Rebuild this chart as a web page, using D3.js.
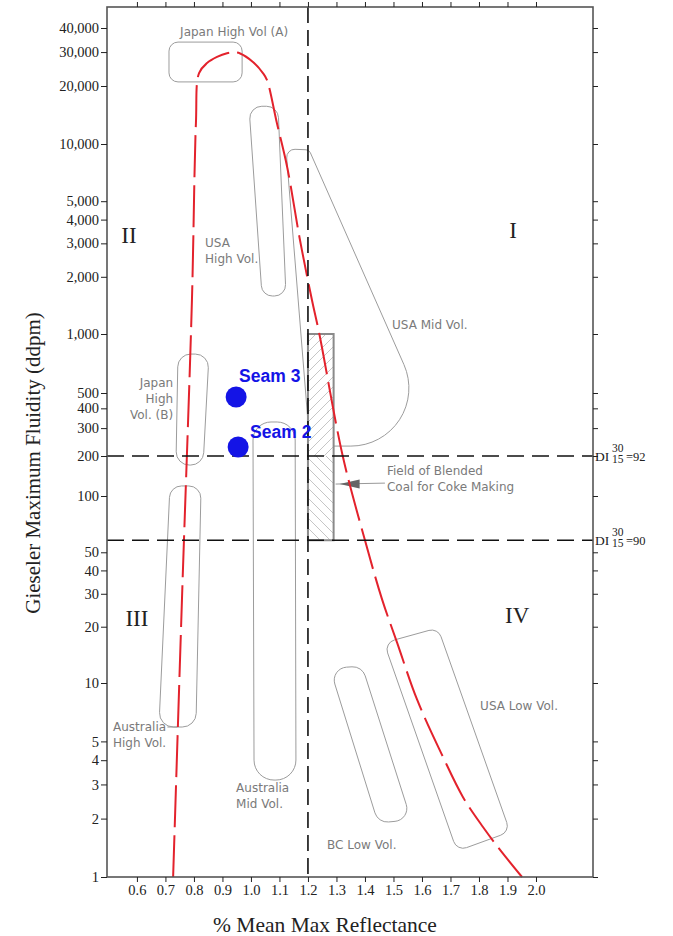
<!DOCTYPE html>
<html>
<head>
<meta charset="utf-8">
<title>Gieseler Maximum Fluidity vs Reflectance</title>
<script src="https://cdn.jsdelivr.net/npm/d3@7"></script>
<style>
    body { margin: 0; background: #fff; }
</style>
</head>
<body>
<div id="chart"></div>
<script>
// ---- data ----
const xTicks = [0.6, 0.7, 0.8, 0.9, 1.0, 1.1, 1.2, 1.3, 1.4, 1.5, 1.6, 1.7, 1.8, 1.9, 2.0];
const yTicks = [1, 2, 3, 4, 5, 10, 20, 30, 40, 50, 100, 200, 300, 400, 500,
    1000, 2000, 3000, 4000, 5000, 10000, 20000, 30000, 40000];

// red dashed trend, [reflectance, fluidity]
const trendCurve = [
    [0.727, 1], [0.758, 28], [0.793, 1510], [0.807, 12850], [0.818, 23350],
    [0.846, 26300], [0.881, 28300], [0.916, 29600], [0.940, 29900], [0.962, 29500],
    [1.007, 26650], [1.042, 23350], [1.056, 21500], [1.091, 12850], [1.127, 7570],
    [1.172, 3125], [1.214, 1510], [1.240, 1000], [1.322, 200], [1.400, 58],
    [1.460, 28], [1.513, 16.4], [1.583, 8.2], [1.674, 4.15], [1.744, 2.58],
    [1.814, 1.81], [1.874, 1.38], [1.951, 1]
];

const seams = [
    { name: "Seam 3", x: 0.948, y: 472 },
    { name: "Seam 2", x: 0.955, y: 228 }
];

// coal fields, corners TL, TR, BR, BL
const coalRegions = [
    { name: "Japan High Vol (A)", corners: [[0.7125, 33800], [0.969, 33800], [0.969, 21000], [0.7125, 21000]] },
    { name: "USA High Vol", corners: [[0.993, 15700], [1.095, 15700], [1.123, 1585], [1.039, 1585]] },
    { name: "USA Mid Vol", corners: [[1.123, 9420], [1.204, 9310], [1.663, 231], [1.207, 231]] },
    { name: "Japan High Vol (B)", corners: [[0.744, 790], [0.853, 790], [0.832, 171], [0.737, 171]] },
    { name: "Australia High Vol", corners: [[0.716, 119], [0.825, 119], [0.807, 5.93], [0.677, 5.93]] },
    { name: "Australia Mid Vol", corners: [[1.007, 328], [1.155, 328], [1.158, 3.16], [1.011, 3.16]] },
    { name: "BC Low Vol", corners: [[1.277, 12.0], [1.390, 12.3], [1.562, 1.97], [1.446, 1.90]] },
    { name: "USA Low Vol", corners: [[1.467, 16.4], [1.656, 19.7], [1.909, 1.71], [1.723, 1.36]] }
];

const regionLabels = [
    { lines: ["Japan High Vol (A)"], x: 0.941, y: 36300, anchor: "middle" },
    { lines: ["USA", "High Vol."], x: 0.839, y: 2870, anchor: "start" },
    { lines: ["Japan", "High", "Vol. (B)"], x: 0.727, y: 537, anchor: "end" },
    { lines: ["Australia", "High Vol."], x: 0.516, y: 5.66, anchor: "start" },
    { lines: ["Australia", "Mid Vol."], x: 0.948, y: 2.74, anchor: "start" },
    { lines: ["USA Mid Vol."], x: 1.495, y: 1062, anchor: "start" },
    { lines: ["Field of Blended", "Coal for Coke Making"], x: 1.477, y: 144, anchor: "start" },
    { lines: ["BC Low Vol."], x: 1.267, y: 1.39, anchor: "start" },
    { lines: ["USA Low Vol."], x: 1.804, y: 7.26, anchor: "start" }
];

const blendField = { x0: 1.2, x1: 1.29, top: 1000, mid: 200, bottom: 58 };
const blendArrow = [[1.47, 125], [1.29, 123]];
const ausLeader = [[0.707, 5.93], [0.742, 5.93]];

const diLines = [
    { value: 200, upper: "30", lower: "15", di: "92" },
    { value: 58, upper: "30", lower: "15", di: "90" }
];
const splitX = 1.2;

const zones = [
    { label: "I", x: 1.92, y: 3200 },
    { label: "II", x: 0.572, y: 3010 },
    { label: "III", x: 0.600, y: 20.2 },
    { label: "IV", x: 1.934, y: 20.9 }
];

// ---- styling ----
const regionRadius = {
    "Japan High Vol (A)": [9, 9, 9, 9],
    "USA High Vol": [12, 12, 11, 11],
    "USA Mid Vol": [8, 5, 58, 3],
    "Japan High Vol (B)": [13, 13, 13, 13],
    "Australia High Vol": [12, 12, 14, 14],
    "Australia Mid Vol": [18, 18, 20, 20],
    "BC Low Vol": [13, 13, 13, 13],
    "USA Low Vol": [10, 10, 10, 10]
};
const seamOffset = { "Seam 3": [3, -15], "Seam 2": [12, -9] };

const width = 673, height = 936;
const serif = "'Liberation Serif', 'Times New Roman', serif";
const sans = "'DejaVu Sans', Verdana, sans-serif";

const x = d3.scaleLinear()
    .domain([0.495, 2.2])
    .range([107, 593]);

// the printed axis has uneven decades, so the log scale is calibrated piecewise
const y = d3.scaleLog()
    .domain([1, 10, 100, 200, 500, 1000, 10000, 40000, 51400])
    .range([877, 683, 496, 456, 393, 334, 144, 28, 7]);

const [x0, x1] = x.range();
const yBottom = y(1), yTop = y(51400);

const svg = d3.select("#chart")
    .append("svg")
    .attr("width", width)
    .attr("height", height)
    .attr("viewBox", [0, 0, width, height]);

// rounded polygon through screen points, radius per corner
function roundedPath(pts, radii) {
    const n = pts.length;
    let d = "";
    for (let i = 0; i < n; i++) {
        const p0 = pts[(i - 1 + n) % n], p1 = pts[i], p2 = pts[(i + 1) % n];
        const l1 = Math.hypot(p0[0] - p1[0], p0[1] - p1[1]);
        const l2 = Math.hypot(p2[0] - p1[0], p2[1] - p1[1]);
        const u1 = [(p0[0] - p1[0]) / l1, (p0[1] - p1[1]) / l1];
        const u2 = [(p2[0] - p1[0]) / l2, (p2[1] - p1[1]) / l2];
        const ang = Math.acos(Math.max(-1, Math.min(1, u1[0] * u2[0] + u1[1] * u2[1])));
        let t = radii[i] / Math.tan(ang / 2);
        t = Math.min(t, l1 * 0.7, l2 * 0.7);
        const r = t * Math.tan(ang / 2);
        const a = [p1[0] + u1[0] * t, p1[1] + u1[1] * t];
        const b = [p1[0] + u2[0] * t, p1[1] + u2[1] * t];
        const cross = (p1[0] - p0[0]) * (p2[1] - p1[1]) - (p1[1] - p0[1]) * (p2[0] - p1[0]);
        d += (i === 0 ? "M" : "L") + a[0] + "," + a[1]
            + "A" + r + "," + r + " 0 0 " + (cross > 0 ? 1 : 0) + " " + b[0] + "," + b[1];
    }
    return d + "Z";
}

// hatch patterns
const defs = svg.append("defs");
defs.append("pattern")
    .attr("id", "hatchUp")
    .attr("patternUnits", "userSpaceOnUse")
    .attr("width", 10).attr("height", 10)
    .append("path")
    .attr("d", "M0,10 L10,0 M-2,2 L2,-2 M8,12 L12,8")
    .attr("stroke", "#b8b8b8").attr("stroke-width", 0.8);
defs.append("pattern")
    .attr("id", "hatchDown")
    .attr("patternUnits", "userSpaceOnUse")
    .attr("width", 10).attr("height", 10)
    .append("path")
    .attr("d", "M0,0 L10,10 M-2,8 L2,12 M8,-2 L12,2")
    .attr("stroke", "#b8b8b8").attr("stroke-width", 0.8);

// coal regions
svg.append("g")
    .selectAll("path")
    .data(coalRegions)
    .join("path")
    .attr("d", d => roundedPath(d.corners.map(c => [x(c[0]), y(c[1])]), regionRadius[d.name]))
    .attr("fill", "none")
    .attr("stroke", "#9c9c9c")
    .attr("stroke-width", 1);

// field of blended coal
const bf = svg.append("g");
bf.append("rect")
    .attr("x", x(blendField.x0)).attr("y", y(blendField.top))
    .attr("width", x(blendField.x1) - x(blendField.x0))
    .attr("height", y(blendField.bottom) - y(blendField.top))
    .attr("fill", "#fff");
bf.append("rect")
    .attr("x", x(blendField.x0)).attr("y", y(blendField.top))
    .attr("width", x(blendField.x1) - x(blendField.x0))
    .attr("height", y(blendField.mid) - y(blendField.top))
    .attr("fill", "url(#hatchUp)");
bf.append("rect")
    .attr("x", x(blendField.x0)).attr("y", y(blendField.mid))
    .attr("width", x(blendField.x1) - x(blendField.x0))
    .attr("height", y(blendField.bottom) - y(blendField.mid))
    .attr("fill", "url(#hatchDown)");
bf.append("rect")
    .attr("x", x(blendField.x0)).attr("y", y(blendField.top))
    .attr("width", x(blendField.x1) - x(blendField.x0))
    .attr("height", y(blendField.bottom) - y(blendField.top))
    .attr("fill", "none")
    .attr("stroke", "#8a8a8a")
    .attr("stroke-width", 2);

// arrow to the blend field
const [a0, a1] = blendArrow.map(p => [x(p[0]), y(p[1])]);
svg.append("line")
    .attr("x1", a0[0]).attr("y1", a0[1])
    .attr("x2", a1[0] + 2).attr("y2", a1[1])
    .attr("stroke", "#999").attr("stroke-width", 1);
svg.append("path")
    .attr("d", `M${a1[0] + 6},${a1[1]} L${a1[0] + 26},${a1[1] - 4.5} L${a1[0] + 26},${a1[1] + 4.5}Z`)
    .attr("fill", "#666");

// leader from "Australia" label
svg.append("line")
    .attr("x1", x(ausLeader[0][0])).attr("y1", y(ausLeader[0][1]))
    .attr("x2", x(ausLeader[1][0])).attr("y2", y(ausLeader[1][1]))
    .attr("stroke", "#9c9c9c").attr("stroke-width", 1);

// region labels
svg.append("g")
    .attr("font-family", sans)
    .attr("font-size", 12)
    .attr("fill", "#7a7a7a")
    .selectAll("text")
    .data(regionLabels)
    .join("text")
    .attr("text-anchor", d => d.anchor)
    .attr("transform", d => `translate(${x(d.x)},${y(d.y)})`)
    .selectAll("tspan")
    .data(d => d.lines)
    .join("tspan")
    .attr("x", 0)
    .attr("y", (d, i) => i * 16)
    .text(d => d);

// trend curve
const line = d3.line()
    .x(d => x(d[0]))
    .y(d => y(d[1]))
    .curve(d3.curveCatmullRom.alpha(0.5));

svg.append("path")
    .datum(trendCurve)
    .attr("d", line)
    .attr("fill", "none")
    .attr("stroke", "#e3222c")
    .attr("stroke-width", 2)
    .attr("stroke-dasharray", "42,8");

// quadrant dividers
svg.append("line")
    .attr("x1", x(splitX)).attr("x2", x(splitX))
    .attr("y1", yTop).attr("y2", yBottom)
    .attr("stroke", "#111").attr("stroke-width", 1.6)
    .attr("stroke-dasharray", "16,7");

svg.append("g")
    .selectAll("line")
    .data(diLines)
    .join("line")
    .attr("x1", x0).attr("x2", x1)
    .attr("y1", d => y(d.value)).attr("y2", d => y(d.value))
    .attr("stroke", "#111").attr("stroke-width", 1.6)
    .attr("stroke-dasharray", "17,8");

// DI labels at right
const di = svg.append("g")
    .attr("font-family", serif)
    .attr("fill", "#222")
    .selectAll("g")
    .data(diLines)
    .join("g")
    .attr("transform", d => `translate(${x1 + 2},${y(d.value)})`);
di.append("text").attr("x", 0).attr("y", 4.5).attr("font-size", 13.5).text("DI");
di.append("text").attr("x", 17).attr("y", -4).attr("font-size", 11.5).text(d => d.upper);
di.append("text").attr("x", 17).attr("y", 6.5).attr("font-size", 11.5).text(d => d.lower);
di.append("text").attr("x", 31).attr("y", 4.5).attr("font-size", 12.5).text(d => "=" + d.di);

// zone numerals
svg.append("g")
    .attr("font-family", serif)
    .attr("font-size", 23)
    .attr("fill", "#222")
    .attr("text-anchor", "middle")
    .selectAll("text")
    .data(zones)
    .join("text")
    .attr("x", d => x(d.x))
    .attr("y", d => y(d.y))
    .text(d => d.label);

// seams
svg.append("g")
    .selectAll("circle")
    .data(seams)
    .join("circle")
    .attr("cx", d => x(d.x))
    .attr("cy", d => y(d.y))
    .attr("r", 10.5)
    .attr("fill", "#1414e6");

svg.append("g")
    .attr("font-family", "'Liberation Sans', Arial, sans-serif")
    .attr("font-weight", "bold")
    .attr("font-size", 17.5)
    .attr("fill", "#1414e6")
    .selectAll("text")
    .data(seams)
    .join("text")
    .attr("x", d => x(d.x) + seamOffset[d.name][0])
    .attr("y", d => y(d.y) + seamOffset[d.name][1])
    .text(d => d.name);

// frame
svg.append("rect")
    .attr("x", x0).attr("y", yTop)
    .attr("width", x1 - x0).attr("height", yBottom - yTop)
    .attr("fill", "none")
    .attr("stroke", "#555")
    .attr("stroke-width", 1.6);

// axes
const styleAxis = g => g
    .attr("font-family", serif)
    .attr("font-size", 14.5)
    .attr("color", "#222")
    .call(g => g.select(".domain").remove());

svg.append("g")
    .attr("transform", `translate(${x0},0)`)
    .call(d3.axisLeft(y).tickValues(yTicks).tickFormat(d3.format(",")).tickSize(6).tickPadding(2))
    .call(styleAxis);

svg.append("g")
    .attr("transform", `translate(${x1},0)`)
    .call(d3.axisRight(y).tickValues(yTicks).tickFormat("").tickSize(5))
    .call(styleAxis);

svg.append("g")
    .attr("transform", `translate(0,${yBottom})`)
    .call(d3.axisBottom(x).tickValues(xTicks).tickFormat(d3.format(".1f")).tickSize(5).tickPadding(3))
    .call(styleAxis);

svg.append("g")
    .attr("transform", `translate(0,${yTop})`)
    .call(d3.axisTop(x).tickValues(xTicks).tickFormat("").tickSize(5))
    .call(styleAxis);

// axis titles
svg.append("text")
    .attr("font-family", serif)
    .attr("font-size", 21.5)
    .attr("fill", "#222")
    .attr("text-anchor", "middle")
    .attr("x", 325)
    .attr("y", 932)
    .text("% Mean Max Reflectance");

svg.append("text")
    .attr("font-family", serif)
    .attr("font-size", 21)
    .attr("fill", "#222")
    .attr("text-anchor", "middle")
    .attr("transform", `translate(40,463) rotate(-90)`)
    .text("Gieseler Maximum Fluidity (ddpm)");
</script>
</body>
</html>
